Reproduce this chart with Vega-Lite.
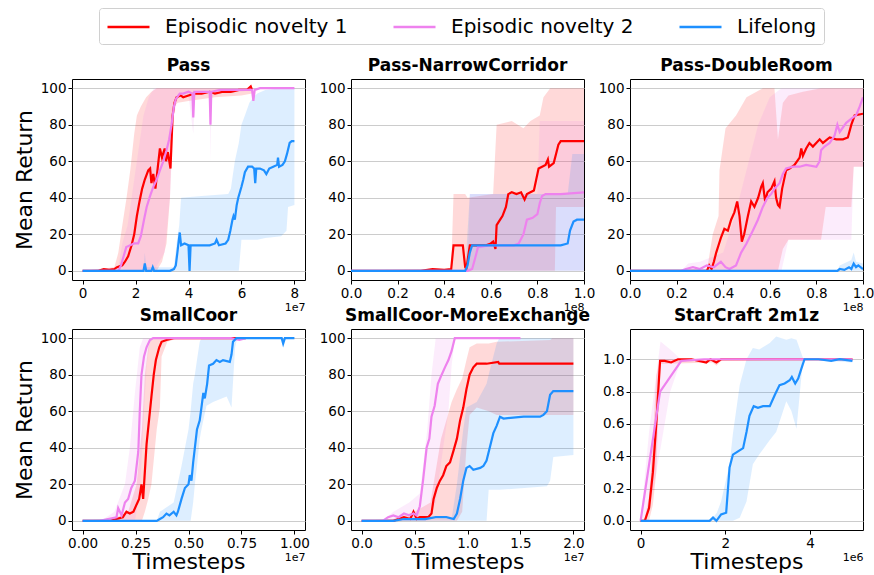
{
"$schema":"https://vega.github.io/schema/vega-lite/v6.json",
"background":"white",
"padding":{"left":12,"top":7,"right":4,"bottom":4},
"config":{
 "font":"DejaVu Sans",
 "view":{"stroke":"black","strokeWidth":1},
 "axis":{"labelFont":"DejaVu Sans","labelFontSize":13.5,"labelColor":"black","tickColor":"black","tickSize":4,"tickWidth":1,"labelPadding":2,"domain":false,"grid":true,"gridColor":"#cccccc","gridWidth":1,"titleFont":"DejaVu Sans","titleFontWeight":"normal","titleColor":"black","labelFlush":false,"labelOverlap":false},
 "title":{"font":"DejaVu Sans","fontSize":17,"fontWeight":"bold","offset":4,"frame":"group","anchor":"middle","color":"black"},
 "legend":{"orient":"none","legendX":27,"legendY":-71,"direction":"horizontal","columns":3,"symbolType":"M-1,0H3","symbolSize":441,"symbolStrokeWidth":2.5,"symbolOpacity":1,"labelFontSize":20,"labelFont":"DejaVu Sans","labelColor":"black","labelLimit":400,"labelOffset":35,"columnPadding":40,"padding":7,"strokeColor":"#d0d0d0","fillColor":"white","cornerRadius":3}
},
"datasets":{
"lines":[
{"p":"P1","s":"EN1","t":0,"m":0},{"p":"P1","s":"EN1","t":0.6e7,"m":0},{"p":"P1","s":"EN1","t":0.8e7,"m":1},{"p":"P1","s":"EN1","t":1.0e7,"m":0.5},{"p":"P1","s":"EN1","t":1.2e7,"m":1},{"p":"P1","s":"EN1","t":1.3e7,"m":2},{"p":"P1","s":"EN1","t":1.5e7,"m":3},{"p":"P1","s":"EN1","t":1.6e7,"m":5},{"p":"P1","s":"EN1","t":1.72e7,"m":8},{"p":"P1","s":"EN1","t":1.85e7,"m":14},{"p":"P1","s":"EN1","t":1.95e7,"m":20},{"p":"P1","s":"EN1","t":2.05e7,"m":30},{"p":"P1","s":"EN1","t":2.15e7,"m":38},{"p":"P1","s":"EN1","t":2.25e7,"m":45},{"p":"P1","s":"EN1","t":2.35e7,"m":50},{"p":"P1","s":"EN1","t":2.48e7,"m":55},{"p":"P1","s":"EN1","t":2.55e7,"m":56},{"p":"P1","s":"EN1","t":2.6e7,"m":48},{"p":"P1","s":"EN1","t":2.67e7,"m":53},{"p":"P1","s":"EN1","t":2.75e7,"m":45},{"p":"P1","s":"EN1","t":2.85e7,"m":58},{"p":"P1","s":"EN1","t":2.92e7,"m":67},{"p":"P1","s":"EN1","t":3.0e7,"m":62},{"p":"P1","s":"EN1","t":3.1e7,"m":67},{"p":"P1","s":"EN1","t":3.15e7,"m":60},{"p":"P1","s":"EN1","t":3.22e7,"m":65},{"p":"P1","s":"EN1","t":3.32e7,"m":56},{"p":"P1","s":"EN1","t":3.4e7,"m":85},{"p":"P1","s":"EN1","t":3.47e7,"m":92},{"p":"P1","s":"EN1","t":3.55e7,"m":95},{"p":"P1","s":"EN1","t":3.7e7,"m":96},{"p":"P1","s":"EN1","t":3.8e7,"m":95},{"p":"P1","s":"EN1","t":4.0e7,"m":96},{"p":"P1","s":"EN1","t":4.2e7,"m":97},{"p":"P1","s":"EN1","t":4.5e7,"m":97},{"p":"P1","s":"EN1","t":4.8e7,"m":98},{"p":"P1","s":"EN1","t":5.0e7,"m":97},{"p":"P1","s":"EN1","t":5.3e7,"m":98},{"p":"P1","s":"EN1","t":5.6e7,"m":98},{"p":"P1","s":"EN1","t":5.9e7,"m":99},{"p":"P1","s":"EN1","t":6.2e7,"m":99},{"p":"P1","s":"EN1","t":6.35e7,"m":101},{"p":"P1","s":"EN1","t":6.4e7,"m":99},
{"p":"P1","s":"EN2","t":0,"m":0},{"p":"P1","s":"EN2","t":1.35e7,"m":0},{"p":"P1","s":"EN2","t":1.45e7,"m":3},{"p":"P1","s":"EN2","t":1.55e7,"m":8},{"p":"P1","s":"EN2","t":1.65e7,"m":13},{"p":"P1","s":"EN2","t":1.8e7,"m":14},{"p":"P1","s":"EN2","t":1.95e7,"m":15},{"p":"P1","s":"EN2","t":2.1e7,"m":15},{"p":"P1","s":"EN2","t":2.2e7,"m":19},{"p":"P1","s":"EN2","t":2.32e7,"m":28},{"p":"P1","s":"EN2","t":2.42e7,"m":35},{"p":"P1","s":"EN2","t":2.55e7,"m":41},{"p":"P1","s":"EN2","t":2.67e7,"m":46},{"p":"P1","s":"EN2","t":2.8e7,"m":50},{"p":"P1","s":"EN2","t":2.92e7,"m":55},{"p":"P1","s":"EN2","t":3.05e7,"m":60},{"p":"P1","s":"EN2","t":3.17e7,"m":66},{"p":"P1","s":"EN2","t":3.27e7,"m":72},{"p":"P1","s":"EN2","t":3.36e7,"m":80},{"p":"P1","s":"EN2","t":3.45e7,"m":90},{"p":"P1","s":"EN2","t":3.52e7,"m":94},{"p":"P1","s":"EN2","t":3.67e7,"m":97},{"p":"P1","s":"EN2","t":3.8e7,"m":97},{"p":"P1","s":"EN2","t":4.0e7,"m":98},{"p":"P1","s":"EN2","t":4.15e7,"m":97},{"p":"P1","s":"EN2","t":4.18e7,"m":84},{"p":"P1","s":"EN2","t":4.22e7,"m":98},{"p":"P1","s":"EN2","t":4.5e7,"m":98},{"p":"P1","s":"EN2","t":4.8e7,"m":98},{"p":"P1","s":"EN2","t":4.83e7,"m":80},{"p":"P1","s":"EN2","t":4.86e7,"m":98},{"p":"P1","s":"EN2","t":5.2e7,"m":99},{"p":"P1","s":"EN2","t":5.6e7,"m":99},{"p":"P1","s":"EN2","t":6.0e7,"m":99},{"p":"P1","s":"EN2","t":6.4e7,"m":99},{"p":"P1","s":"EN2","t":6.45e7,"m":93},{"p":"P1","s":"EN2","t":6.5e7,"m":99},{"p":"P1","s":"EN2","t":6.7e7,"m":100},{"p":"P1","s":"EN2","t":7.0e7,"m":100},{"p":"P1","s":"EN2","t":7.5e7,"m":100},{"p":"P1","s":"EN2","t":8.0e7,"m":100},
{"p":"P1","s":"LL","t":0,"m":0},{"p":"P1","s":"LL","t":2.3e7,"m":0},{"p":"P1","s":"LL","t":2.35e7,"m":4},{"p":"P1","s":"LL","t":2.4e7,"m":0},{"p":"P1","s":"LL","t":2.6e7,"m":0},{"p":"P1","s":"LL","t":2.65e7,"m":2},{"p":"P1","s":"LL","t":2.7e7,"m":0},{"p":"P1","s":"LL","t":3.3e7,"m":0},{"p":"P1","s":"LL","t":3.45e7,"m":1},{"p":"P1","s":"LL","t":3.52e7,"m":3},{"p":"P1","s":"LL","t":3.58e7,"m":10},{"p":"P1","s":"LL","t":3.62e7,"m":15},{"p":"P1","s":"LL","t":3.67e7,"m":21},{"p":"P1","s":"LL","t":3.72e7,"m":14},{"p":"P1","s":"LL","t":3.85e7,"m":15},{"p":"P1","s":"LL","t":4.0e7,"m":14},{"p":"P1","s":"LL","t":4.04e7,"m":0},{"p":"P1","s":"LL","t":4.08e7,"m":14},{"p":"P1","s":"LL","t":4.3e7,"m":14},{"p":"P1","s":"LL","t":4.6e7,"m":14},{"p":"P1","s":"LL","t":4.8e7,"m":14},{"p":"P1","s":"LL","t":5.0e7,"m":15},{"p":"P1","s":"LL","t":5.06e7,"m":17},{"p":"P1","s":"LL","t":5.15e7,"m":14},{"p":"P1","s":"LL","t":5.4e7,"m":15},{"p":"P1","s":"LL","t":5.5e7,"m":17},{"p":"P1","s":"LL","t":5.58e7,"m":22},{"p":"P1","s":"LL","t":5.66e7,"m":28},{"p":"P1","s":"LL","t":5.7e7,"m":30},{"p":"P1","s":"LL","t":5.75e7,"m":28},{"p":"P1","s":"LL","t":5.82e7,"m":36},{"p":"P1","s":"LL","t":5.88e7,"m":40},{"p":"P1","s":"LL","t":5.94e7,"m":43},{"p":"P1","s":"LL","t":6.0e7,"m":46},{"p":"P1","s":"LL","t":6.07e7,"m":50},{"p":"P1","s":"LL","t":6.13e7,"m":54},{"p":"P1","s":"LL","t":6.25e7,"m":57},{"p":"P1","s":"LL","t":6.4e7,"m":57},{"p":"P1","s":"LL","t":6.48e7,"m":56},{"p":"P1","s":"LL","t":6.52e7,"m":48},{"p":"P1","s":"LL","t":6.56e7,"m":56},{"p":"P1","s":"LL","t":6.7e7,"m":56},{"p":"P1","s":"LL","t":6.85e7,"m":55},{"p":"P1","s":"LL","t":6.94e7,"m":53},{"p":"P1","s":"LL","t":7.05e7,"m":56},{"p":"P1","s":"LL","t":7.2e7,"m":57},{"p":"P1","s":"LL","t":7.35e7,"m":58},{"p":"P1","s":"LL","t":7.38e7,"m":62},{"p":"P1","s":"LL","t":7.42e7,"m":57},{"p":"P1","s":"LL","t":7.55e7,"m":58},{"p":"P1","s":"LL","t":7.64e7,"m":60},{"p":"P1","s":"LL","t":7.72e7,"m":64},{"p":"P1","s":"LL","t":7.82e7,"m":70},{"p":"P1","s":"LL","t":7.9e7,"m":71},{"p":"P1","s":"LL","t":8.0e7,"m":71},
{"p":"P2","s":"EN1","t":0,"m":0},{"p":"P2","s":"EN1","t":0.3e8,"m":0},{"p":"P2","s":"EN1","t":0.35e8,"m":1},{"p":"P2","s":"EN1","t":0.4e8,"m":0.5},{"p":"P2","s":"EN1","t":0.43e8,"m":1},{"p":"P2","s":"EN1","t":0.44e8,"m":14},{"p":"P2","s":"EN1","t":0.48e8,"m":14},{"p":"P2","s":"EN1","t":0.49e8,"m":2},{"p":"P2","s":"EN1","t":0.495e8,"m":1},{"p":"P2","s":"EN1","t":0.51e8,"m":14},{"p":"P2","s":"EN1","t":0.55e8,"m":14},{"p":"P2","s":"EN1","t":0.58e8,"m":14},{"p":"P2","s":"EN1","t":0.6e8,"m":15},{"p":"P2","s":"EN1","t":0.61e8,"m":16},{"p":"P2","s":"EN1","t":0.62e8,"m":12},{"p":"P2","s":"EN1","t":0.625e8,"m":25},{"p":"P2","s":"EN1","t":0.64e8,"m":28},{"p":"P2","s":"EN1","t":0.65e8,"m":30},{"p":"P2","s":"EN1","t":0.665e8,"m":35},{"p":"P2","s":"EN1","t":0.675e8,"m":42},{"p":"P2","s":"EN1","t":0.69e8,"m":43},{"p":"P2","s":"EN1","t":0.71e8,"m":42},{"p":"P2","s":"EN1","t":0.73e8,"m":43},{"p":"P2","s":"EN1","t":0.745e8,"m":39},{"p":"P2","s":"EN1","t":0.755e8,"m":42},{"p":"P2","s":"EN1","t":0.77e8,"m":43},{"p":"P2","s":"EN1","t":0.785e8,"m":44},{"p":"P2","s":"EN1","t":0.795e8,"m":50},{"p":"P2","s":"EN1","t":0.805e8,"m":56},{"p":"P2","s":"EN1","t":0.82e8,"m":57},{"p":"P2","s":"EN1","t":0.835e8,"m":58},{"p":"P2","s":"EN1","t":0.845e8,"m":61},{"p":"P2","s":"EN1","t":0.85e8,"m":57},{"p":"P2","s":"EN1","t":0.87e8,"m":59},{"p":"P2","s":"EN1","t":0.88e8,"m":64},{"p":"P2","s":"EN1","t":0.89e8,"m":69},{"p":"P2","s":"EN1","t":0.9e8,"m":71},{"p":"P2","s":"EN1","t":0.95e8,"m":71},{"p":"P2","s":"EN1","t":1.0e8,"m":71},
{"p":"P2","s":"EN2","t":0,"m":0},{"p":"P2","s":"EN2","t":0.5e8,"m":0},{"p":"P2","s":"EN2","t":0.52e8,"m":1},{"p":"P2","s":"EN2","t":0.535e8,"m":8},{"p":"P2","s":"EN2","t":0.545e8,"m":13},{"p":"P2","s":"EN2","t":0.6e8,"m":14},{"p":"P2","s":"EN2","t":0.7e8,"m":14},{"p":"P2","s":"EN2","t":0.72e8,"m":15},{"p":"P2","s":"EN2","t":0.74e8,"m":20},{"p":"P2","s":"EN2","t":0.755e8,"m":28},{"p":"P2","s":"EN2","t":0.78e8,"m":29},{"p":"P2","s":"EN2","t":0.8e8,"m":31},{"p":"P2","s":"EN2","t":0.81e8,"m":37},{"p":"P2","s":"EN2","t":0.82e8,"m":41},{"p":"P2","s":"EN2","t":0.835e8,"m":42},{"p":"P2","s":"EN2","t":0.9e8,"m":42},{"p":"P2","s":"EN2","t":1.0e8,"m":43},
{"p":"P2","s":"LL","t":0,"m":0},{"p":"P2","s":"LL","t":0.49e8,"m":0},{"p":"P2","s":"LL","t":0.5e8,"m":3},{"p":"P2","s":"LL","t":0.51e8,"m":10},{"p":"P2","s":"LL","t":0.52e8,"m":14},{"p":"P2","s":"LL","t":0.7e8,"m":14},{"p":"P2","s":"LL","t":0.9e8,"m":14},{"p":"P2","s":"LL","t":0.93e8,"m":15},{"p":"P2","s":"LL","t":0.94e8,"m":22},{"p":"P2","s":"LL","t":0.955e8,"m":27},{"p":"P2","s":"LL","t":0.97e8,"m":28},{"p":"P2","s":"LL","t":1.0e8,"m":28},
{"p":"P3","s":"EN1","t":0,"m":0},{"p":"P3","s":"EN1","t":0.33e8,"m":0},{"p":"P3","s":"EN1","t":0.34e8,"m":3},{"p":"P3","s":"EN1","t":0.35e8,"m":1},{"p":"P3","s":"EN1","t":0.36e8,"m":5},{"p":"P3","s":"EN1","t":0.37e8,"m":10},{"p":"P3","s":"EN1","t":0.38e8,"m":14},{"p":"P3","s":"EN1","t":0.39e8,"m":18},{"p":"P3","s":"EN1","t":0.405e8,"m":23},{"p":"P3","s":"EN1","t":0.42e8,"m":22},{"p":"P3","s":"EN1","t":0.434e8,"m":28},{"p":"P3","s":"EN1","t":0.448e8,"m":32},{"p":"P3","s":"EN1","t":0.46e8,"m":38},{"p":"P3","s":"EN1","t":0.47e8,"m":30},{"p":"P3","s":"EN1","t":0.48e8,"m":16},{"p":"P3","s":"EN1","t":0.49e8,"m":20},{"p":"P3","s":"EN1","t":0.506e8,"m":30},{"p":"P3","s":"EN1","t":0.52e8,"m":38},{"p":"P3","s":"EN1","t":0.534e8,"m":35},{"p":"P3","s":"EN1","t":0.55e8,"m":40},{"p":"P3","s":"EN1","t":0.563e8,"m":46},{"p":"P3","s":"EN1","t":0.57e8,"m":48},{"p":"P3","s":"EN1","t":0.58e8,"m":38},{"p":"P3","s":"EN1","t":0.59e8,"m":43},{"p":"P3","s":"EN1","t":0.606e8,"m":45},{"p":"P3","s":"EN1","t":0.62e8,"m":49},{"p":"P3","s":"EN1","t":0.627e8,"m":40},{"p":"P3","s":"EN1","t":0.635e8,"m":36},{"p":"P3","s":"EN1","t":0.642e8,"m":35},{"p":"P3","s":"EN1","t":0.653e8,"m":45},{"p":"P3","s":"EN1","t":0.67e8,"m":55},{"p":"P3","s":"EN1","t":0.685e8,"m":56},{"p":"P3","s":"EN1","t":0.706e8,"m":58},{"p":"P3","s":"EN1","t":0.728e8,"m":62},{"p":"P3","s":"EN1","t":0.735e8,"m":67},{"p":"P3","s":"EN1","t":0.742e8,"m":63},{"p":"P3","s":"EN1","t":0.756e8,"m":67},{"p":"P3","s":"EN1","t":0.77e8,"m":70},{"p":"P3","s":"EN1","t":0.785e8,"m":68},{"p":"P3","s":"EN1","t":0.814e8,"m":72},{"p":"P3","s":"EN1","t":0.828e8,"m":70},{"p":"P3","s":"EN1","t":0.857e8,"m":73},{"p":"P3","s":"EN1","t":0.885e8,"m":72},{"p":"P3","s":"EN1","t":0.914e8,"m":72},{"p":"P3","s":"EN1","t":0.935e8,"m":73},{"p":"P3","s":"EN1","t":0.95e8,"m":80},{"p":"P3","s":"EN1","t":0.964e8,"m":85},{"p":"P3","s":"EN1","t":1.0e8,"m":86},
{"p":"P3","s":"EN2","t":0,"m":0},{"p":"P3","s":"EN2","t":0.22e8,"m":0},{"p":"P3","s":"EN2","t":0.24e8,"m":1},{"p":"P3","s":"EN2","t":0.27e8,"m":2},{"p":"P3","s":"EN2","t":0.3e8,"m":1},{"p":"P3","s":"EN2","t":0.33e8,"m":3},{"p":"P3","s":"EN2","t":0.36e8,"m":2},{"p":"P3","s":"EN2","t":0.39e8,"m":5},{"p":"P3","s":"EN2","t":0.41e8,"m":2},{"p":"P3","s":"EN2","t":0.427e8,"m":1},{"p":"P3","s":"EN2","t":0.455e8,"m":3},{"p":"P3","s":"EN2","t":0.477e8,"m":10},{"p":"P3","s":"EN2","t":0.5e8,"m":15},{"p":"P3","s":"EN2","t":0.527e8,"m":22},{"p":"P3","s":"EN2","t":0.549e8,"m":28},{"p":"P3","s":"EN2","t":0.57e8,"m":35},{"p":"P3","s":"EN2","t":0.59e8,"m":40},{"p":"P3","s":"EN2","t":0.606e8,"m":42},{"p":"P3","s":"EN2","t":0.62e8,"m":45},{"p":"P3","s":"EN2","t":0.642e8,"m":48},{"p":"P3","s":"EN2","t":0.656e8,"m":53},{"p":"P3","s":"EN2","t":0.67e8,"m":56},{"p":"P3","s":"EN2","t":0.7e8,"m":57},{"p":"P3","s":"EN2","t":0.728e8,"m":57},{"p":"P3","s":"EN2","t":0.756e8,"m":58},{"p":"P3","s":"EN2","t":0.8e8,"m":57},{"p":"P3","s":"EN2","t":0.814e8,"m":60},{"p":"P3","s":"EN2","t":0.82e8,"m":66},{"p":"P3","s":"EN2","t":0.835e8,"m":68},{"p":"P3","s":"EN2","t":0.857e8,"m":70},{"p":"P3","s":"EN2","t":0.878e8,"m":74},{"p":"P3","s":"EN2","t":0.89e8,"m":80},{"p":"P3","s":"EN2","t":0.9e8,"m":76},{"p":"P3","s":"EN2","t":0.928e8,"m":81},{"p":"P3","s":"EN2","t":0.957e8,"m":84},{"p":"P3","s":"EN2","t":0.97e8,"m":85},{"p":"P3","s":"EN2","t":0.986e8,"m":90},{"p":"P3","s":"EN2","t":1.0e8,"m":95},
{"p":"P3","s":"LL","t":0,"m":0},{"p":"P3","s":"LL","t":0.89e8,"m":0},{"p":"P3","s":"LL","t":0.9e8,"m":1},{"p":"P3","s":"LL","t":0.92e8,"m":0.5},{"p":"P3","s":"LL","t":0.94e8,"m":2},{"p":"P3","s":"LL","t":0.95e8,"m":1},{"p":"P3","s":"LL","t":0.96e8,"m":4},{"p":"P3","s":"LL","t":0.97e8,"m":2},{"p":"P3","s":"LL","t":0.98e8,"m":3},{"p":"P3","s":"LL","t":1.0e8,"m":1},
{"p":"P4","s":"EN1","t":0,"m":0},{"p":"P4","s":"EN1","t":0.13e7,"m":0},{"p":"P4","s":"EN1","t":0.16e7,"m":1},{"p":"P4","s":"EN1","t":0.19e7,"m":2},{"p":"P4","s":"EN1","t":0.207e7,"m":5},{"p":"P4","s":"EN1","t":0.223e7,"m":4},{"p":"P4","s":"EN1","t":0.24e7,"m":5},{"p":"P4","s":"EN1","t":0.255e7,"m":9},{"p":"P4","s":"EN1","t":0.267e7,"m":12},{"p":"P4","s":"EN1","t":0.278e7,"m":20},{"p":"P4","s":"EN1","t":0.286e7,"m":12},{"p":"P4","s":"EN1","t":0.302e7,"m":42},{"p":"P4","s":"EN1","t":0.318e7,"m":60},{"p":"P4","s":"EN1","t":0.325e7,"m":68},{"p":"P4","s":"EN1","t":0.336e7,"m":80},{"p":"P4","s":"EN1","t":0.346e7,"m":88},{"p":"P4","s":"EN1","t":0.362e7,"m":95},{"p":"P4","s":"EN1","t":0.373e7,"m":98},{"p":"P4","s":"EN1","t":0.396e7,"m":99},{"p":"P4","s":"EN1","t":0.43e7,"m":100},{"p":"P4","s":"EN1","t":0.6e7,"m":100},{"p":"P4","s":"EN1","t":0.77e7,"m":100},
{"p":"P4","s":"EN2","t":0,"m":0},{"p":"P4","s":"EN2","t":0.08e7,"m":0},{"p":"P4","s":"EN2","t":0.12e7,"m":1},{"p":"P4","s":"EN2","t":0.16e7,"m":2},{"p":"P4","s":"EN2","t":0.168e7,"m":7},{"p":"P4","s":"EN2","t":0.184e7,"m":3},{"p":"P4","s":"EN2","t":0.2e7,"m":10},{"p":"P4","s":"EN2","t":0.215e7,"m":12},{"p":"P4","s":"EN2","t":0.23e7,"m":18},{"p":"P4","s":"EN2","t":0.247e7,"m":22},{"p":"P4","s":"EN2","t":0.263e7,"m":38},{"p":"P4","s":"EN2","t":0.27e7,"m":60},{"p":"P4","s":"EN2","t":0.278e7,"m":80},{"p":"P4","s":"EN2","t":0.29e7,"m":90},{"p":"P4","s":"EN2","t":0.302e7,"m":95},{"p":"P4","s":"EN2","t":0.318e7,"m":99},{"p":"P4","s":"EN2","t":0.333e7,"m":100},{"p":"P4","s":"EN2","t":0.5e7,"m":100},{"p":"P4","s":"EN2","t":0.7e7,"m":100},{"p":"P4","s":"EN2","t":0.74e7,"m":99},{"p":"P4","s":"EN2","t":0.77e7,"m":100},
{"p":"P4","s":"LL","t":0,"m":0},{"p":"P4","s":"LL","t":0.35e7,"m":0},{"p":"P4","s":"LL","t":0.365e7,"m":1},{"p":"P4","s":"LL","t":0.38e7,"m":2},{"p":"P4","s":"LL","t":0.396e7,"m":4},{"p":"P4","s":"LL","t":0.41e7,"m":3},{"p":"P4","s":"LL","t":0.43e7,"m":5},{"p":"P4","s":"LL","t":0.443e7,"m":3},{"p":"P4","s":"LL","t":0.45e7,"m":5},{"p":"P4","s":"LL","t":0.467e7,"m":12},{"p":"P4","s":"LL","t":0.483e7,"m":18},{"p":"P4","s":"LL","t":0.5e7,"m":20},{"p":"P4","s":"LL","t":0.506e7,"m":25},{"p":"P4","s":"LL","t":0.514e7,"m":22},{"p":"P4","s":"LL","t":0.522e7,"m":32},{"p":"P4","s":"LL","t":0.53e7,"m":40},{"p":"P4","s":"LL","t":0.54e7,"m":50},{"p":"P4","s":"LL","t":0.553e7,"m":55},{"p":"P4","s":"LL","t":0.561e7,"m":62},{"p":"P4","s":"LL","t":0.57e7,"m":70},{"p":"P4","s":"LL","t":0.577e7,"m":67},{"p":"P4","s":"LL","t":0.588e7,"m":75},{"p":"P4","s":"LL","t":0.597e7,"m":85},{"p":"P4","s":"LL","t":0.616e7,"m":86},{"p":"P4","s":"LL","t":0.632e7,"m":88},{"p":"P4","s":"LL","t":0.648e7,"m":87},{"p":"P4","s":"LL","t":0.663e7,"m":88},{"p":"P4","s":"LL","t":0.695e7,"m":87},{"p":"P4","s":"LL","t":0.703e7,"m":91},{"p":"P4","s":"LL","t":0.71e7,"m":98},{"p":"P4","s":"LL","t":0.726e7,"m":100},{"p":"P4","s":"LL","t":0.8e7,"m":100},{"p":"P4","s":"LL","t":0.94e7,"m":100},{"p":"P4","s":"LL","t":0.947e7,"m":97},{"p":"P4","s":"LL","t":0.955e7,"m":100},{"p":"P4","s":"LL","t":1.0e7,"m":100},
{"p":"P5","s":"EN1","t":0,"m":0},{"p":"P5","s":"EN1","t":0.3e7,"m":0},{"p":"P5","s":"EN1","t":0.35e7,"m":1},{"p":"P5","s":"EN1","t":0.4e7,"m":2},{"p":"P5","s":"EN1","t":0.46e7,"m":1},{"p":"P5","s":"EN1","t":0.49e7,"m":5},{"p":"P5","s":"EN1","t":0.52e7,"m":1},{"p":"P5","s":"EN1","t":0.55e7,"m":2},{"p":"P5","s":"EN1","t":0.63e7,"m":2},{"p":"P5","s":"EN1","t":0.66e7,"m":4},{"p":"P5","s":"EN1","t":0.68e7,"m":12},{"p":"P5","s":"EN1","t":0.71e7,"m":18},{"p":"P5","s":"EN1","t":0.74e7,"m":22},{"p":"P5","s":"EN1","t":0.77e7,"m":25},{"p":"P5","s":"EN1","t":0.8e7,"m":30},{"p":"P5","s":"EN1","t":0.835e7,"m":32},{"p":"P5","s":"EN1","t":0.866e7,"m":38},{"p":"P5","s":"EN1","t":0.9e7,"m":45},{"p":"P5","s":"EN1","t":0.93e7,"m":55},{"p":"P5","s":"EN1","t":0.96e7,"m":62},{"p":"P5","s":"EN1","t":0.99e7,"m":72},{"p":"P5","s":"EN1","t":1.02e7,"m":80},{"p":"P5","s":"EN1","t":1.055e7,"m":84},{"p":"P5","s":"EN1","t":1.087e7,"m":86},{"p":"P5","s":"EN1","t":1.18e7,"m":86},{"p":"P5","s":"EN1","t":1.29e7,"m":87},{"p":"P5","s":"EN1","t":1.3e7,"m":86},{"p":"P5","s":"EN1","t":1.5e7,"m":86},{"p":"P5","s":"EN1","t":2.0e7,"m":86},
{"p":"P5","s":"EN2","t":0,"m":0},{"p":"P5","s":"EN2","t":0.2e7,"m":0},{"p":"P5","s":"EN2","t":0.25e7,"m":2},{"p":"P5","s":"EN2","t":0.3e7,"m":3},{"p":"P5","s":"EN2","t":0.35e7,"m":2},{"p":"P5","s":"EN2","t":0.4e7,"m":4},{"p":"P5","s":"EN2","t":0.45e7,"m":3},{"p":"P5","s":"EN2","t":0.49e7,"m":4},{"p":"P5","s":"EN2","t":0.52e7,"m":3},{"p":"P5","s":"EN2","t":0.55e7,"m":8},{"p":"P5","s":"EN2","t":0.58e7,"m":22},{"p":"P5","s":"EN2","t":0.614e7,"m":40},{"p":"P5","s":"EN2","t":0.64e7,"m":45},{"p":"P5","s":"EN2","t":0.66e7,"m":57},{"p":"P5","s":"EN2","t":0.69e7,"m":63},{"p":"P5","s":"EN2","t":0.72e7,"m":75},{"p":"P5","s":"EN2","t":0.756e7,"m":80},{"p":"P5","s":"EN2","t":0.787e7,"m":84},{"p":"P5","s":"EN2","t":0.82e7,"m":88},{"p":"P5","s":"EN2","t":0.85e7,"m":93},{"p":"P5","s":"EN2","t":0.88e7,"m":100},{"p":"P5","s":"EN2","t":1.2e7,"m":100},{"p":"P5","s":"EN2","t":1.5e7,"m":100},
{"p":"P5","s":"LL","t":0,"m":0},{"p":"P5","s":"LL","t":0.3e7,"m":0},{"p":"P5","s":"LL","t":0.4e7,"m":1},{"p":"P5","s":"LL","t":0.6e7,"m":1},{"p":"P5","s":"LL","t":0.7e7,"m":2},{"p":"P5","s":"LL","t":0.8e7,"m":2},{"p":"P5","s":"LL","t":0.87e7,"m":1},{"p":"P5","s":"LL","t":0.9e7,"m":4},{"p":"P5","s":"LL","t":0.93e7,"m":12},{"p":"P5","s":"LL","t":0.96e7,"m":22},{"p":"P5","s":"LL","t":0.99e7,"m":29},{"p":"P5","s":"LL","t":1.02e7,"m":30},{"p":"P5","s":"LL","t":1.055e7,"m":28},{"p":"P5","s":"LL","t":1.12e7,"m":29},{"p":"P5","s":"LL","t":1.15e7,"m":30},{"p":"P5","s":"LL","t":1.18e7,"m":33},{"p":"P5","s":"LL","t":1.21e7,"m":40},{"p":"P5","s":"LL","t":1.244e7,"m":48},{"p":"P5","s":"LL","t":1.275e7,"m":52},{"p":"P5","s":"LL","t":1.307e7,"m":57},{"p":"P5","s":"LL","t":1.34e7,"m":56},{"p":"P5","s":"LL","t":1.53e7,"m":57},{"p":"P5","s":"LL","t":1.685e7,"m":57},{"p":"P5","s":"LL","t":1.717e7,"m":58},{"p":"P5","s":"LL","t":1.75e7,"m":60},{"p":"P5","s":"LL","t":1.78e7,"m":69},{"p":"P5","s":"LL","t":1.81e7,"m":71},{"p":"P5","s":"LL","t":2.0e7,"m":71},
{"p":"P6","s":"EN1","t":0,"m":0},{"p":"P6","s":"EN1","t":0.1e6,"m":0},{"p":"P6","s":"EN1","t":0.2e6,"m":0.08},{"p":"P6","s":"EN1","t":0.29e6,"m":0.3},{"p":"P6","s":"EN1","t":0.37e6,"m":0.6},{"p":"P6","s":"EN1","t":0.46e6,"m":0.99},{"p":"P6","s":"EN1","t":0.57e6,"m":0.99},{"p":"P6","s":"EN1","t":0.72e6,"m":0.98},{"p":"P6","s":"EN1","t":0.88e6,"m":1.0},{"p":"P6","s":"EN1","t":1.2e6,"m":1.0},{"p":"P6","s":"EN1","t":1.55e6,"m":0.98},{"p":"P6","s":"EN1","t":1.65e6,"m":1.0},{"p":"P6","s":"EN1","t":1.79e6,"m":0.98},{"p":"P6","s":"EN1","t":1.9e6,"m":1.0},{"p":"P6","s":"EN1","t":3.0e6,"m":1.0},{"p":"P6","s":"EN1","t":5.0e6,"m":1.0},
{"p":"P6","s":"EN2","t":0,"m":0},{"p":"P6","s":"EN2","t":0.46e6,"m":0.8},{"p":"P6","s":"EN2","t":0.96e6,"m":0.99},{"p":"P6","s":"EN2","t":1.5e6,"m":1.0},{"p":"P6","s":"EN2","t":3.0e6,"m":1.0},{"p":"P6","s":"EN2","t":5.0e6,"m":1.0},
{"p":"P6","s":"LL","t":0,"m":0},{"p":"P6","s":"LL","t":1.63e6,"m":0},{"p":"P6","s":"LL","t":1.71e6,"m":0.02},{"p":"P6","s":"LL","t":1.79e6,"m":0},{"p":"P6","s":"LL","t":1.9e6,"m":0.04},{"p":"P6","s":"LL","t":2.02e6,"m":0.05},{"p":"P6","s":"LL","t":2.1e6,"m":0.33},{"p":"P6","s":"LL","t":2.18e6,"m":0.41},{"p":"P6","s":"LL","t":2.3e6,"m":0.43},{"p":"P6","s":"LL","t":2.42e6,"m":0.45},{"p":"P6","s":"LL","t":2.5e6,"m":0.55},{"p":"P6","s":"LL","t":2.57e6,"m":0.65},{"p":"P6","s":"LL","t":2.67e6,"m":0.71},{"p":"P6","s":"LL","t":2.77e6,"m":0.7},{"p":"P6","s":"LL","t":2.89e6,"m":0.71},{"p":"P6","s":"LL","t":3.05e6,"m":0.71},{"p":"P6","s":"LL","t":3.17e6,"m":0.78},{"p":"P6","s":"LL","t":3.28e6,"m":0.84},{"p":"P6","s":"LL","t":3.4e6,"m":0.85},{"p":"P6","s":"LL","t":3.52e6,"m":0.87},{"p":"P6","s":"LL","t":3.57e6,"m":0.89},{"p":"P6","s":"LL","t":3.65e6,"m":0.85},{"p":"P6","s":"LL","t":3.72e6,"m":0.88},{"p":"P6","s":"LL","t":3.83e6,"m":0.97},{"p":"P6","s":"LL","t":3.87e6,"m":1.0},{"p":"P6","s":"LL","t":4.2e6,"m":1.0},{"p":"P6","s":"LL","t":4.5e6,"m":0.99},{"p":"P6","s":"LL","t":4.7e6,"m":1.0},{"p":"P6","s":"LL","t":5.0e6,"m":0.99}
],
"bands":[
{"p":"P1","s":"EN1","t":0,"lo":0,"hi":0},{"p":"P1","s":"EN1","t":0.6e7,"lo":0,"hi":1},{"p":"P1","s":"EN1","t":1.2e7,"lo":0,"hi":2},{"p":"P1","s":"EN1","t":1.35e7,"lo":0,"hi":10},{"p":"P1","s":"EN1","t":1.5e7,"lo":0,"hi":25},{"p":"P1","s":"EN1","t":1.66e7,"lo":0,"hi":40},{"p":"P1","s":"EN1","t":1.8e7,"lo":0,"hi":55},{"p":"P1","s":"EN1","t":1.95e7,"lo":0,"hi":75},{"p":"P1","s":"EN1","t":2.05e7,"lo":0,"hi":85},{"p":"P1","s":"EN1","t":2.2e7,"lo":0,"hi":90},{"p":"P1","s":"EN1","t":2.4e7,"lo":0,"hi":95},{"p":"P1","s":"EN1","t":2.6e7,"lo":0,"hi":98},{"p":"P1","s":"EN1","t":2.8e7,"lo":0,"hi":100},{"p":"P1","s":"EN1","t":3.0e7,"lo":5,"hi":100},{"p":"P1","s":"EN1","t":3.17e7,"lo":15,"hi":100},{"p":"P1","s":"EN1","t":3.3e7,"lo":40,"hi":100},{"p":"P1","s":"EN1","t":3.42e7,"lo":90,"hi":100},{"p":"P1","s":"EN1","t":3.6e7,"lo":92,"hi":100},{"p":"P1","s":"EN1","t":4.0e7,"lo":93,"hi":100},{"p":"P1","s":"EN1","t":5.0e7,"lo":95,"hi":100},{"p":"P1","s":"EN1","t":6.0e7,"lo":96,"hi":100},{"p":"P1","s":"EN1","t":6.4e7,"lo":97,"hi":100},
{"p":"P1","s":"EN2","t":0,"lo":0,"hi":0},{"p":"P1","s":"EN2","t":1.35e7,"lo":0,"hi":2},{"p":"P1","s":"EN2","t":1.5e7,"lo":0,"hi":15},{"p":"P1","s":"EN2","t":1.7e7,"lo":0,"hi":25},{"p":"P1","s":"EN2","t":1.9e7,"lo":0,"hi":45},{"p":"P1","s":"EN2","t":2.1e7,"lo":0,"hi":65},{"p":"P1","s":"EN2","t":2.3e7,"lo":0,"hi":85},{"p":"P1","s":"EN2","t":2.5e7,"lo":0,"hi":95},{"p":"P1","s":"EN2","t":2.7e7,"lo":0,"hi":100},{"p":"P1","s":"EN2","t":3.1e7,"lo":10,"hi":100},{"p":"P1","s":"EN2","t":3.3e7,"lo":40,"hi":100},{"p":"P1","s":"EN2","t":3.45e7,"lo":85,"hi":100},{"p":"P1","s":"EN2","t":3.6e7,"lo":95,"hi":100},{"p":"P1","s":"EN2","t":4.0e7,"lo":96,"hi":100},{"p":"P1","s":"EN2","t":4.18e7,"lo":75,"hi":100},{"p":"P1","s":"EN2","t":4.25e7,"lo":96,"hi":100},{"p":"P1","s":"EN2","t":4.8e7,"lo":97,"hi":100},{"p":"P1","s":"EN2","t":4.83e7,"lo":60,"hi":100},{"p":"P1","s":"EN2","t":4.86e7,"lo":97,"hi":100},{"p":"P1","s":"EN2","t":6.0e7,"lo":98,"hi":100},{"p":"P1","s":"EN2","t":6.7e7,"lo":100,"hi":100},{"p":"P1","s":"EN2","t":8.0e7,"lo":100,"hi":100},
{"p":"P1","s":"LL","t":0,"lo":0,"hi":0},{"p":"P1","s":"LL","t":2.3e7,"lo":0,"hi":0},{"p":"P1","s":"LL","t":2.35e7,"lo":0,"hi":10},{"p":"P1","s":"LL","t":2.4e7,"lo":0,"hi":2},{"p":"P1","s":"LL","t":3.45e7,"lo":0,"hi":2},{"p":"P1","s":"LL","t":3.55e7,"lo":0,"hi":15},{"p":"P1","s":"LL","t":3.65e7,"lo":0,"hi":25},{"p":"P1","s":"LL","t":3.72e7,"lo":0,"hi":40},{"p":"P1","s":"LL","t":4.5e7,"lo":0,"hi":41},{"p":"P1","s":"LL","t":5.5e7,"lo":0,"hi":42},{"p":"P1","s":"LL","t":5.6e7,"lo":0,"hi":45},{"p":"P1","s":"LL","t":5.75e7,"lo":0,"hi":60},{"p":"P1","s":"LL","t":5.9e7,"lo":0,"hi":70},{"p":"P1","s":"LL","t":6.0e7,"lo":17,"hi":80},{"p":"P1","s":"LL","t":6.13e7,"lo":17,"hi":85},{"p":"P1","s":"LL","t":6.3e7,"lo":17,"hi":92},{"p":"P1","s":"LL","t":6.45e7,"lo":17,"hi":95},{"p":"P1","s":"LL","t":6.6e7,"lo":17,"hi":97},{"p":"P1","s":"LL","t":6.9e7,"lo":18,"hi":99},{"p":"P1","s":"LL","t":7.5e7,"lo":19,"hi":100},{"p":"P1","s":"LL","t":7.7e7,"lo":22,"hi":100},{"p":"P1","s":"LL","t":7.76e7,"lo":35,"hi":100},{"p":"P1","s":"LL","t":8.0e7,"lo":36,"hi":100},
{"p":"P2","s":"EN1","t":0,"lo":0,"hi":0},{"p":"P2","s":"EN1","t":0.33e8,"lo":0,"hi":1},{"p":"P2","s":"EN1","t":0.43e8,"lo":0,"hi":1},{"p":"P2","s":"EN1","t":0.44e8,"lo":0,"hi":42},{"p":"P2","s":"EN1","t":0.49e8,"lo":0,"hi":42},{"p":"P2","s":"EN1","t":0.5e8,"lo":0,"hi":40},{"p":"P2","s":"EN1","t":0.61e8,"lo":0,"hi":42},{"p":"P2","s":"EN1","t":0.625e8,"lo":0,"hi":80},{"p":"P2","s":"EN1","t":0.69e8,"lo":0,"hi":82},{"p":"P2","s":"EN1","t":0.74e8,"lo":0,"hi":78},{"p":"P2","s":"EN1","t":0.77e8,"lo":0,"hi":82},{"p":"P2","s":"EN1","t":0.81e8,"lo":0,"hi":85},{"p":"P2","s":"EN1","t":0.826e8,"lo":0,"hi":95},{"p":"P2","s":"EN1","t":0.855e8,"lo":0,"hi":100},{"p":"P2","s":"EN1","t":0.875e8,"lo":0,"hi":100},{"p":"P2","s":"EN1","t":0.88e8,"lo":35,"hi":100},{"p":"P2","s":"EN1","t":1.0e8,"lo":35,"hi":100},
{"p":"P2","s":"EN2","t":0,"lo":0,"hi":0},{"p":"P2","s":"EN2","t":0.5e8,"lo":0,"hi":0},{"p":"P2","s":"EN2","t":0.51e8,"lo":0,"hi":42},{"p":"P2","s":"EN2","t":0.8e8,"lo":0,"hi":42},{"p":"P2","s":"EN2","t":0.81e8,"lo":0,"hi":82},{"p":"P2","s":"EN2","t":1.0e8,"lo":0,"hi":82},
{"p":"P2","s":"LL","t":0,"lo":0,"hi":0},{"p":"P2","s":"LL","t":0.49e8,"lo":0,"hi":0},{"p":"P2","s":"LL","t":0.51e8,"lo":0,"hi":42},{"p":"P2","s":"LL","t":0.93e8,"lo":0,"hi":42},{"p":"P2","s":"LL","t":0.95e8,"lo":0,"hi":64},{"p":"P2","s":"LL","t":1.0e8,"lo":0,"hi":64},
{"p":"P3","s":"EN1","t":0,"lo":0,"hi":0},{"p":"P3","s":"EN1","t":0.33e8,"lo":0,"hi":0},{"p":"P3","s":"EN1","t":0.355e8,"lo":0,"hi":20},{"p":"P3","s":"EN1","t":0.38e8,"lo":0,"hi":30},{"p":"P3","s":"EN1","t":0.384e8,"lo":0,"hi":55},{"p":"P3","s":"EN1","t":0.41e8,"lo":0,"hi":78},{"p":"P3","s":"EN1","t":0.455e8,"lo":0,"hi":85},{"p":"P3","s":"EN1","t":0.5e8,"lo":0,"hi":95},{"p":"P3","s":"EN1","t":0.57e8,"lo":0,"hi":100},{"p":"P3","s":"EN1","t":0.62e8,"lo":0,"hi":100},{"p":"P3","s":"EN1","t":0.635e8,"lo":0,"hi":72},{"p":"P3","s":"EN1","t":0.656e8,"lo":12,"hi":92},{"p":"P3","s":"EN1","t":0.68e8,"lo":17,"hi":96},{"p":"P3","s":"EN1","t":0.742e8,"lo":17,"hi":98},{"p":"P3","s":"EN1","t":0.82e8,"lo":17,"hi":100},{"p":"P3","s":"EN1","t":0.84e8,"lo":35,"hi":100},{"p":"P3","s":"EN1","t":0.95e8,"lo":35,"hi":100},{"p":"P3","s":"EN1","t":0.96e8,"lo":57,"hi":100},{"p":"P3","s":"EN1","t":1.0e8,"lo":57,"hi":100},
{"p":"P3","s":"EN2","t":0,"lo":0,"hi":0},{"p":"P3","s":"EN2","t":0.22e8,"lo":0,"hi":0},{"p":"P3","s":"EN2","t":0.25e8,"lo":0,"hi":4},{"p":"P3","s":"EN2","t":0.3e8,"lo":0,"hi":5},{"p":"P3","s":"EN2","t":0.4e8,"lo":0,"hi":10},{"p":"P3","s":"EN2","t":0.45e8,"lo":0,"hi":30},{"p":"P3","s":"EN2","t":0.5e8,"lo":0,"hi":55},{"p":"P3","s":"EN2","t":0.55e8,"lo":0,"hi":80},{"p":"P3","s":"EN2","t":0.6e8,"lo":0,"hi":95},{"p":"P3","s":"EN2","t":0.65e8,"lo":0,"hi":100},{"p":"P3","s":"EN2","t":0.68e8,"lo":17,"hi":100},{"p":"P3","s":"EN2","t":0.95e8,"lo":17,"hi":100},{"p":"P3","s":"EN2","t":0.96e8,"lo":57,"hi":100},{"p":"P3","s":"EN2","t":1.0e8,"lo":57,"hi":100},
{"p":"P3","s":"LL","t":0,"lo":0,"hi":0},{"p":"P3","s":"LL","t":0.89e8,"lo":0,"hi":0},{"p":"P3","s":"LL","t":0.9e8,"lo":0,"hi":3},{"p":"P3","s":"LL","t":0.95e8,"lo":0,"hi":6},{"p":"P3","s":"LL","t":0.96e8,"lo":0,"hi":10},{"p":"P3","s":"LL","t":0.97e8,"lo":0,"hi":5},{"p":"P3","s":"LL","t":1.0e8,"lo":0,"hi":4},
{"p":"P4","s":"EN1","t":0,"lo":0,"hi":0},{"p":"P4","s":"EN1","t":0.13e7,"lo":0,"hi":0},{"p":"P4","s":"EN1","t":0.215e7,"lo":0,"hi":5},{"p":"P4","s":"EN1","t":0.255e7,"lo":0,"hi":20},{"p":"P4","s":"EN1","t":0.28e7,"lo":0,"hi":50},{"p":"P4","s":"EN1","t":0.294e7,"lo":5,"hi":80},{"p":"P4","s":"EN1","t":0.31e7,"lo":12,"hi":95},{"p":"P4","s":"EN1","t":0.325e7,"lo":20,"hi":100},{"p":"P4","s":"EN1","t":0.35e7,"lo":50,"hi":100},{"p":"P4","s":"EN1","t":0.365e7,"lo":62,"hi":100},{"p":"P4","s":"EN1","t":0.373e7,"lo":90,"hi":100},{"p":"P4","s":"EN1","t":0.4e7,"lo":98,"hi":100},{"p":"P4","s":"EN1","t":0.45e7,"lo":100,"hi":100},{"p":"P4","s":"EN1","t":0.77e7,"lo":100,"hi":100},
{"p":"P4","s":"EN2","t":0,"lo":0,"hi":0},{"p":"P4","s":"EN2","t":0.1e7,"lo":0,"hi":1},{"p":"P4","s":"EN2","t":0.15e7,"lo":0,"hi":5},{"p":"P4","s":"EN2","t":0.2e7,"lo":0,"hi":20},{"p":"P4","s":"EN2","t":0.223e7,"lo":0,"hi":40},{"p":"P4","s":"EN2","t":0.247e7,"lo":0,"hi":70},{"p":"P4","s":"EN2","t":0.27e7,"lo":15,"hi":95},{"p":"P4","s":"EN2","t":0.286e7,"lo":50,"hi":100},{"p":"P4","s":"EN2","t":0.302e7,"lo":85,"hi":100},{"p":"P4","s":"EN2","t":0.318e7,"lo":98,"hi":100},{"p":"P4","s":"EN2","t":0.34e7,"lo":100,"hi":100},{"p":"P4","s":"EN2","t":0.77e7,"lo":100,"hi":100},
{"p":"P4","s":"LL","t":0,"lo":0,"hi":0},{"p":"P4","s":"LL","t":0.35e7,"lo":0,"hi":0},{"p":"P4","s":"LL","t":0.365e7,"lo":0,"hi":5},{"p":"P4","s":"LL","t":0.43e7,"lo":0,"hi":10},{"p":"P4","s":"LL","t":0.467e7,"lo":0,"hi":30},{"p":"P4","s":"LL","t":0.5e7,"lo":0,"hi":50},{"p":"P4","s":"LL","t":0.51e7,"lo":0,"hi":60},{"p":"P4","s":"LL","t":0.522e7,"lo":10,"hi":75},{"p":"P4","s":"LL","t":0.53e7,"lo":20,"hi":80},{"p":"P4","s":"LL","t":0.54e7,"lo":30,"hi":88},{"p":"P4","s":"LL","t":0.553e7,"lo":45,"hi":98},{"p":"P4","s":"LL","t":0.561e7,"lo":50,"hi":100},{"p":"P4","s":"LL","t":0.57e7,"lo":55,"hi":100},{"p":"P4","s":"LL","t":0.585e7,"lo":63,"hi":100},{"p":"P4","s":"LL","t":0.616e7,"lo":65,"hi":100},{"p":"P4","s":"LL","t":0.68e7,"lo":68,"hi":100},{"p":"P4","s":"LL","t":0.703e7,"lo":62,"hi":100},{"p":"P4","s":"LL","t":0.72e7,"lo":95,"hi":100},{"p":"P4","s":"LL","t":0.73e7,"lo":100,"hi":100},{"p":"P4","s":"LL","t":1.0e7,"lo":100,"hi":100},
{"p":"P5","s":"EN1","t":0,"lo":0,"hi":0},{"p":"P5","s":"EN1","t":0.3e7,"lo":0,"hi":1},{"p":"P5","s":"EN1","t":0.5e7,"lo":0,"hi":5},{"p":"P5","s":"EN1","t":0.65e7,"lo":0,"hi":10},{"p":"P5","s":"EN1","t":0.75e7,"lo":0,"hi":45},{"p":"P5","s":"EN1","t":0.85e7,"lo":0,"hi":65},{"p":"P5","s":"EN1","t":0.9e7,"lo":0,"hi":72},{"p":"P5","s":"EN1","t":0.95e7,"lo":5,"hi":78},{"p":"P5","s":"EN1","t":0.99e7,"lo":40,"hi":88},{"p":"P5","s":"EN1","t":1.02e7,"lo":58,"hi":95},{"p":"P5","s":"EN1","t":1.087e7,"lo":62,"hi":97},{"p":"P5","s":"EN1","t":1.2e7,"lo":60,"hi":97},{"p":"P5","s":"EN1","t":1.275e7,"lo":58,"hi":98},{"p":"P5","s":"EN1","t":1.78e7,"lo":58,"hi":99},{"p":"P5","s":"EN1","t":1.8e7,"lo":58,"hi":100},{"p":"P5","s":"EN1","t":2.0e7,"lo":58,"hi":100},
{"p":"P5","s":"EN2","t":0,"lo":0,"hi":0},{"p":"P5","s":"EN2","t":0.2e7,"lo":0,"hi":0},{"p":"P5","s":"EN2","t":0.3e7,"lo":0,"hi":5},{"p":"P5","s":"EN2","t":0.45e7,"lo":0,"hi":10},{"p":"P5","s":"EN2","t":0.55e7,"lo":0,"hi":15},{"p":"P5","s":"EN2","t":0.62e7,"lo":0,"hi":50},{"p":"P5","s":"EN2","t":0.66e7,"lo":5,"hi":80},{"p":"P5","s":"EN2","t":0.7e7,"lo":10,"hi":100},{"p":"P5","s":"EN2","t":0.77e7,"lo":40,"hi":100},{"p":"P5","s":"EN2","t":0.82e7,"lo":60,"hi":100},{"p":"P5","s":"EN2","t":0.85e7,"lo":85,"hi":100},{"p":"P5","s":"EN2","t":0.88e7,"lo":100,"hi":100},{"p":"P5","s":"EN2","t":1.5e7,"lo":100,"hi":100},
{"p":"P5","s":"LL","t":0,"lo":0,"hi":0},{"p":"P5","s":"LL","t":0.85e7,"lo":0,"hi":1},{"p":"P5","s":"LL","t":0.9e7,"lo":0,"hi":20},{"p":"P5","s":"LL","t":0.96e7,"lo":0,"hi":50},{"p":"P5","s":"LL","t":0.99e7,"lo":0,"hi":62},{"p":"P5","s":"LL","t":1.087e7,"lo":0,"hi":65},{"p":"P5","s":"LL","t":1.18e7,"lo":0,"hi":75},{"p":"P5","s":"LL","t":1.2e7,"lo":17,"hi":80},{"p":"P5","s":"LL","t":1.244e7,"lo":17,"hi":90},{"p":"P5","s":"LL","t":1.275e7,"lo":17,"hi":97},{"p":"P5","s":"LL","t":1.3e7,"lo":17,"hi":100},{"p":"P5","s":"LL","t":1.75e7,"lo":19,"hi":100},{"p":"P5","s":"LL","t":1.78e7,"lo":22,"hi":100},{"p":"P5","s":"LL","t":1.81e7,"lo":35,"hi":100},{"p":"P5","s":"LL","t":2.0e7,"lo":36,"hi":100},
{"p":"P6","s":"EN1","t":0,"lo":0,"hi":0},{"p":"P6","s":"EN1","t":0.1e6,"lo":0,"hi":0.02},{"p":"P6","s":"EN1","t":0.2e6,"lo":0,"hi":0.15},{"p":"P6","s":"EN1","t":0.29e6,"lo":0.1,"hi":0.5},{"p":"P6","s":"EN1","t":0.37e6,"lo":0.3,"hi":0.9},{"p":"P6","s":"EN1","t":0.46e6,"lo":0.97,"hi":1.0},{"p":"P6","s":"EN1","t":1.7e6,"lo":0.98,"hi":1.0},{"p":"P6","s":"EN1","t":1.79e6,"lo":0.96,"hi":1.0},{"p":"P6","s":"EN1","t":1.9e6,"lo":0.99,"hi":1.0},{"p":"P6","s":"EN1","t":5.0e6,"lo":1.0,"hi":1.0},
{"p":"P6","s":"EN2","t":0,"lo":0,"hi":0},{"p":"P6","s":"EN2","t":0.2e6,"lo":0.05,"hi":0.55},{"p":"P6","s":"EN2","t":0.47e6,"lo":0.45,"hi":1.11},{"p":"P6","s":"EN2","t":0.7e6,"lo":0.8,"hi":1.06},{"p":"P6","s":"EN2","t":0.95e6,"lo":0.99,"hi":1.0},{"p":"P6","s":"EN2","t":5.0e6,"lo":1.0,"hi":1.0},
{"p":"P6","s":"LL","t":0,"lo":0,"hi":0},{"p":"P6","s":"LL","t":1.65e6,"lo":0,"hi":0},{"p":"P6","s":"LL","t":1.8e6,"lo":0,"hi":0.05},{"p":"P6","s":"LL","t":1.9e6,"lo":0,"hi":0.12},{"p":"P6","s":"LL","t":2.1e6,"lo":0,"hi":0.35},{"p":"P6","s":"LL","t":2.18e6,"lo":0,"hi":0.54},{"p":"P6","s":"LL","t":2.34e6,"lo":0.02,"hi":0.84},{"p":"P6","s":"LL","t":2.5e6,"lo":0.12,"hi":1.0},{"p":"P6","s":"LL","t":2.65e6,"lo":0.35,"hi":1.07},{"p":"P6","s":"LL","t":2.8e6,"lo":0.41,"hi":1.06},{"p":"P6","s":"LL","t":3.05e6,"lo":0.5,"hi":1.1},{"p":"P6","s":"LL","t":3.2e6,"lo":0.55,"hi":1.14},{"p":"P6","s":"LL","t":3.44e6,"lo":0.74,"hi":1.12},{"p":"P6","s":"LL","t":3.56e6,"lo":0.68,"hi":1.13},{"p":"P6","s":"LL","t":3.68e6,"lo":0.57,"hi":1.12},{"p":"P6","s":"LL","t":3.83e6,"lo":0.99,"hi":1.01},{"p":"P6","s":"LL","t":3.87e6,"lo":1.0,"hi":1.0},{"p":"P6","s":"LL","t":5.0e6,"lo":0.98,"hi":1.0}
]
},
"columns":3,
"spacing":{"row":49,"column":46},
"bounds":"flush",
"resolve":{"scale":{"x":"independent","y":"independent","color":"shared"},"legend":{"color":"shared"}},
"concat":[
{"title":"Pass","width":233,"height":201,"resolve":{"axis":{"x":"independent"}},"layer":[
 {"data":{"name":"bands"},"transform":[{"filter":"datum.p == 'P1'"}],"mark":{"type":"area","fillOpacity":0.15,"clip":true},
  "encoding":{"x":{"field":"t","type":"quantitative","scale":{"domain":[-0.4e7,8.4e7],"nice":false,"zero":false},"axis":{"orient":"bottom","title":"1e7","labels":false,"ticks":false,"grid":false,"titleAnchor":"end","titleFontSize":11,"titlePadding":21}},
   "y":{"field":"lo","type":"quantitative","scale":{"domain":[-5,105],"nice":false,"zero":false},"axis":{"title":"Mean Return","titleFontSize":22,"titlePadding":4,"values":[0,20,40,60,80,100]}},
   "y2":{"field":"hi"},
   "color":{"field":"s","type":"nominal","scale":{"domain":["EN1","EN2","LL"],"range":["#ff0000","#ee82ee","#1e90ff"]},"legend":{"title":null,"labelExpr":"datum.label == 'EN1' ? 'Episodic novelty 1' : datum.label == 'EN2' ? 'Episodic novelty 2' : 'Lifelong'"}}}},
 {"data":{"name":"lines"},"transform":[{"filter":"datum.p == 'P1'"}],"mark":{"type":"line","strokeWidth":2.2,"clip":true},
  "encoding":{"x":{"field":"t","type":"quantitative","scale":{"domain":[-0.4e7,8.4e7],"nice":false,"zero":false},"axis":{"orient":"bottom","title":null,"values":[0,2e7,4e7,6e7,8e7],"labelExpr":"format(datum.value/1e7, 'd')"}},
   "y":{"field":"m","type":"quantitative","scale":{"domain":[-5,105],"nice":false,"zero":false},"axis":{"title":"Mean Return","titleFontSize":22,"titlePadding":4,"values":[0,20,40,60,80,100]}},
   "color":{"field":"s","type":"nominal","scale":{"domain":["EN1","EN2","LL"],"range":["#ff0000","#ee82ee","#1e90ff"]},"legend":{"title":null,"labelExpr":"datum.label == 'EN1' ? 'Episodic novelty 1' : datum.label == 'EN2' ? 'Episodic novelty 2' : 'Lifelong'"}}}}
]},
{"title":"Pass-NarrowCorridor","width":233,"height":201,"resolve":{"axis":{"x":"independent"}},"layer":[
 {"data":{"name":"bands"},"transform":[{"filter":"datum.p == 'P2'"}],"mark":{"type":"area","fillOpacity":0.15,"clip":true},
  "encoding":{"x":{"field":"t","type":"quantitative","scale":{"domain":[0,1e8],"nice":false,"zero":false},"axis":{"orient":"bottom","title":"1e8","labels":false,"ticks":false,"grid":false,"titleAnchor":"end","titleFontSize":11,"titlePadding":21}},
   "y":{"field":"lo","type":"quantitative","scale":{"domain":[-5,105],"nice":false,"zero":false},"axis":{"title":null,"values":[0,20,40,60,80,100]}},
   "y2":{"field":"hi"},
   "color":{"field":"s","type":"nominal","scale":{"domain":["EN1","EN2","LL"],"range":["#ff0000","#ee82ee","#1e90ff"]},"legend":{"title":null,"labelExpr":"datum.label == 'EN1' ? 'Episodic novelty 1' : datum.label == 'EN2' ? 'Episodic novelty 2' : 'Lifelong'"}}}},
 {"data":{"name":"lines"},"transform":[{"filter":"datum.p == 'P2'"}],"mark":{"type":"line","strokeWidth":2.2,"clip":true},
  "encoding":{"x":{"field":"t","type":"quantitative","scale":{"domain":[0,1e8],"nice":false,"zero":false},"axis":{"orient":"bottom","title":null,"values":[0,2e7,4e7,6e7,8e7,1e8],"labelExpr":"format(datum.value/1e8, '.1f')"}},
   "y":{"field":"m","type":"quantitative","scale":{"domain":[-5,105],"nice":false,"zero":false},"axis":{"title":null,"values":[0,20,40,60,80,100]}},
   "color":{"field":"s","type":"nominal","scale":{"domain":["EN1","EN2","LL"],"range":["#ff0000","#ee82ee","#1e90ff"]},"legend":{"title":null,"labelExpr":"datum.label == 'EN1' ? 'Episodic novelty 1' : datum.label == 'EN2' ? 'Episodic novelty 2' : 'Lifelong'"}}}}
]},
{"title":"Pass-DoubleRoom","width":233,"height":201,"resolve":{"axis":{"x":"independent"}},"layer":[
 {"data":{"name":"bands"},"transform":[{"filter":"datum.p == 'P3'"}],"mark":{"type":"area","fillOpacity":0.15,"clip":true},
  "encoding":{"x":{"field":"t","type":"quantitative","scale":{"domain":[0,1e8],"nice":false,"zero":false},"axis":{"orient":"bottom","title":"1e8","labels":false,"ticks":false,"grid":false,"titleAnchor":"end","titleFontSize":11,"titlePadding":21}},
   "y":{"field":"lo","type":"quantitative","scale":{"domain":[-5,105],"nice":false,"zero":false},"axis":{"title":null,"values":[0,20,40,60,80,100]}},
   "y2":{"field":"hi"},
   "color":{"field":"s","type":"nominal","scale":{"domain":["EN1","EN2","LL"],"range":["#ff0000","#ee82ee","#1e90ff"]},"legend":{"title":null,"labelExpr":"datum.label == 'EN1' ? 'Episodic novelty 1' : datum.label == 'EN2' ? 'Episodic novelty 2' : 'Lifelong'"}}}},
 {"data":{"name":"lines"},"transform":[{"filter":"datum.p == 'P3'"}],"mark":{"type":"line","strokeWidth":2.2,"clip":true},
  "encoding":{"x":{"field":"t","type":"quantitative","scale":{"domain":[0,1e8],"nice":false,"zero":false},"axis":{"orient":"bottom","title":null,"values":[0,2e7,4e7,6e7,8e7,1e8],"labelExpr":"format(datum.value/1e8, '.1f')"}},
   "y":{"field":"m","type":"quantitative","scale":{"domain":[-5,105],"nice":false,"zero":false},"axis":{"title":null,"values":[0,20,40,60,80,100]}},
   "color":{"field":"s","type":"nominal","scale":{"domain":["EN1","EN2","LL"],"range":["#ff0000","#ee82ee","#1e90ff"]},"legend":{"title":null,"labelExpr":"datum.label == 'EN1' ? 'Episodic novelty 1' : datum.label == 'EN2' ? 'Episodic novelty 2' : 'Lifelong'"}}}}
]},
{"title":"SmallCoor","width":233,"height":201,"resolve":{"axis":{"x":"independent"}},"layer":[
 {"data":{"name":"bands"},"transform":[{"filter":"datum.p == 'P4'"}],"mark":{"type":"area","fillOpacity":0.15,"clip":true},
  "encoding":{"x":{"field":"t","type":"quantitative","scale":{"domain":[-0.05e7,1.05e7],"nice":false,"zero":false},"axis":{"orient":"bottom","title":"1e7","labels":false,"ticks":false,"grid":false,"titleAnchor":"end","titleFontSize":11,"titlePadding":21}},
   "y":{"field":"lo","type":"quantitative","scale":{"domain":[-5,105],"nice":false,"zero":false},"axis":{"title":"Mean Return","titleFontSize":22,"titlePadding":4,"values":[0,20,40,60,80,100]}},
   "y2":{"field":"hi"},
   "color":{"field":"s","type":"nominal","scale":{"domain":["EN1","EN2","LL"],"range":["#ff0000","#ee82ee","#1e90ff"]},"legend":{"title":null,"labelExpr":"datum.label == 'EN1' ? 'Episodic novelty 1' : datum.label == 'EN2' ? 'Episodic novelty 2' : 'Lifelong'"}}}},
 {"data":{"name":"lines"},"transform":[{"filter":"datum.p == 'P4'"}],"mark":{"type":"line","strokeWidth":2.2,"clip":true},
  "encoding":{"x":{"field":"t","type":"quantitative","scale":{"domain":[-0.05e7,1.05e7],"nice":false,"zero":false},"axis":{"orient":"bottom","title":"Timesteps","titleFontSize":22,"titlePadding":2,"values":[0,2.5e6,5e6,7.5e6,1e7],"labelExpr":"format(datum.value/1e7, '.2f')"}},
   "y":{"field":"m","type":"quantitative","scale":{"domain":[-5,105],"nice":false,"zero":false},"axis":{"title":"Mean Return","titleFontSize":22,"titlePadding":4,"values":[0,20,40,60,80,100]}},
   "color":{"field":"s","type":"nominal","scale":{"domain":["EN1","EN2","LL"],"range":["#ff0000","#ee82ee","#1e90ff"]},"legend":{"title":null,"labelExpr":"datum.label == 'EN1' ? 'Episodic novelty 1' : datum.label == 'EN2' ? 'Episodic novelty 2' : 'Lifelong'"}}}}
]},
{"title":"SmallCoor-MoreExchange","width":233,"height":201,"resolve":{"axis":{"x":"independent"}},"layer":[
 {"data":{"name":"bands"},"transform":[{"filter":"datum.p == 'P5'"}],"mark":{"type":"area","fillOpacity":0.15,"clip":true},
  "encoding":{"x":{"field":"t","type":"quantitative","scale":{"domain":[-0.1e7,2.1e7],"nice":false,"zero":false},"axis":{"orient":"bottom","title":"1e7","labels":false,"ticks":false,"grid":false,"titleAnchor":"end","titleFontSize":11,"titlePadding":21}},
   "y":{"field":"lo","type":"quantitative","scale":{"domain":[-5,105],"nice":false,"zero":false},"axis":{"title":null,"values":[0,20,40,60,80,100]}},
   "y2":{"field":"hi"},
   "color":{"field":"s","type":"nominal","scale":{"domain":["EN1","EN2","LL"],"range":["#ff0000","#ee82ee","#1e90ff"]},"legend":{"title":null,"labelExpr":"datum.label == 'EN1' ? 'Episodic novelty 1' : datum.label == 'EN2' ? 'Episodic novelty 2' : 'Lifelong'"}}}},
 {"data":{"name":"lines"},"transform":[{"filter":"datum.p == 'P5'"}],"mark":{"type":"line","strokeWidth":2.2,"clip":true},
  "encoding":{"x":{"field":"t","type":"quantitative","scale":{"domain":[-0.1e7,2.1e7],"nice":false,"zero":false},"axis":{"orient":"bottom","title":"Timesteps","titleFontSize":22,"titlePadding":2,"values":[0,5e6,1e7,1.5e7,2e7],"labelExpr":"format(datum.value/1e7, '.1f')"}},
   "y":{"field":"m","type":"quantitative","scale":{"domain":[-5,105],"nice":false,"zero":false},"axis":{"title":null,"values":[0,20,40,60,80,100]}},
   "color":{"field":"s","type":"nominal","scale":{"domain":["EN1","EN2","LL"],"range":["#ff0000","#ee82ee","#1e90ff"]},"legend":{"title":null,"labelExpr":"datum.label == 'EN1' ? 'Episodic novelty 1' : datum.label == 'EN2' ? 'Episodic novelty 2' : 'Lifelong'"}}}}
]},
{"title":"StarCraft 2m1z","width":233,"height":201,"resolve":{"axis":{"x":"independent"}},"layer":[
 {"data":{"name":"bands"},"transform":[{"filter":"datum.p == 'P6'"}],"mark":{"type":"area","fillOpacity":0.15,"clip":true},
  "encoding":{"x":{"field":"t","type":"quantitative","scale":{"domain":[-0.25e6,5.25e6],"nice":false,"zero":false},"axis":{"orient":"bottom","title":"1e6","labels":false,"ticks":false,"grid":false,"titleAnchor":"end","titleFontSize":11,"titlePadding":21}},
   "y":{"field":"lo","type":"quantitative","scale":{"domain":[-0.0565,1.187],"nice":false,"zero":false},"axis":{"title":null,"values":[0,0.2,0.4,0.6,0.8,1.0],"format":".1f"}},
   "y2":{"field":"hi"},
   "color":{"field":"s","type":"nominal","scale":{"domain":["EN1","EN2","LL"],"range":["#ff0000","#ee82ee","#1e90ff"]},"legend":{"title":null,"labelExpr":"datum.label == 'EN1' ? 'Episodic novelty 1' : datum.label == 'EN2' ? 'Episodic novelty 2' : 'Lifelong'"}}}},
 {"data":{"name":"lines"},"transform":[{"filter":"datum.p == 'P6'"}],"mark":{"type":"line","strokeWidth":2.2,"clip":true},
  "encoding":{"x":{"field":"t","type":"quantitative","scale":{"domain":[-0.25e6,5.25e6],"nice":false,"zero":false},"axis":{"orient":"bottom","title":"Timesteps","titleFontSize":22,"titlePadding":2,"values":[0,2e6,4e6],"labelExpr":"format(datum.value/1e6, 'd')"}},
   "y":{"field":"m","type":"quantitative","scale":{"domain":[-0.0565,1.187],"nice":false,"zero":false},"axis":{"title":null,"values":[0,0.2,0.4,0.6,0.8,1.0],"format":".1f"}},
   "color":{"field":"s","type":"nominal","scale":{"domain":["EN1","EN2","LL"],"range":["#ff0000","#ee82ee","#1e90ff"]},"legend":{"title":null,"labelExpr":"datum.label == 'EN1' ? 'Episodic novelty 1' : datum.label == 'EN2' ? 'Episodic novelty 2' : 'Lifelong'"}}}}
]}
]
}
